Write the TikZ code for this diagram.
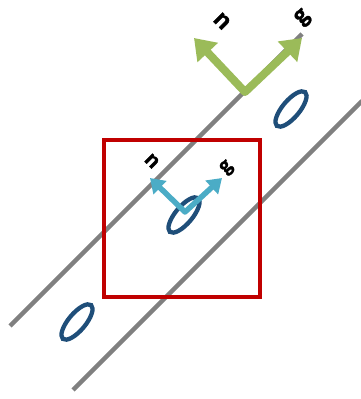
\documentclass[tikz,border=0pt]{standalone}
\usepackage{fontspec}
\setmainfont{Carlito}
\newfontfamily\heavyfont{Carlito}[BoldFont={Carlito Bold},BoldFeatures={FakeBold=1.5}]
\usetikzlibrary{arrows.meta}
\definecolor{lgray}{RGB}{128,128,128}
\definecolor{boxred}{RGB}{192,0,0}
\definecolor{ellblue}{RGB}{31,78,121}
\definecolor{vgreen}{RGB}{155,187,89}
\definecolor{vblue}{RGB}{75,172,198}
\begin{document}
\begin{tikzpicture}[x=1pt,y=1pt,
  wall/.style={draw=lgray,line width=4.5pt},
  frame/.style={draw=boxred,line width=4pt},
  particle/.style={draw=ellblue,line width=4.3pt},
  bigvec/.style={draw=vgreen,line width=8pt,line join=round,{Triangle[length=20pt,width=27pt]}-{Triangle[length=20pt,width=27pt]}},
  smallvec/.style={draw=vblue,line width=5.5pt,line join=round,{Triangle[length=14pt,width=18pt]}-{Triangle[length=14pt,width=18pt]}},
  biglab/.style={font=\heavyfont\bfseries\fontsize{27}{27}\selectfont,inner sep=0pt},
  smalllab/.style={font=\heavyfont\bfseries\fontsize{23}{23}\selectfont,inner sep=0pt}]
\useasboundingbox (0,0) rectangle (360,399);
% walls
\coordinate (u1) at (10,73);
\coordinate (u2) at (302,365);
\coordinate (l1) at (73,9);
\coordinate (l2) at (362,298);
\draw[wall] (u1) -- (u2);
\draw[wall] (l1) -- (l2);
% frame
\coordinate (r1) at (104,102);
\coordinate (r2) at (260,259);
\draw[frame] (r1) rectangle (r2);
% particles
\coordinate (e1) at (77,77);
\coordinate (e2) at (184,184);
\coordinate (e3) at (291,290);
\foreach \c in {e1,e2,e3}
  \draw[particle,rotate around={50:(\c)}] (\c) ellipse[x radius=22pt,y radius=8.5pt];
% green vectors
\coordinate (gv) at (245,307);
\coordinate (gn) at (194,361);
\coordinate (gg) at (302,361);
\draw[bigvec] (gn) -- (gv) -- (gg);
\node[biglab,rotate=-45] (gnl) at (222,378) {n};
\node[biglab,rotate=45] (ggl) at (303,381) {g};
% blue vectors
\coordinate (bv) at (185,187);
\coordinate (bn) at (150,221);
\coordinate (bg) at (222,221);
\draw[smallvec] (bn) -- (bv) -- (bg);
\node[smalllab,rotate=-45] (bnl) at (152,238) {n};
\node[smalllab,rotate=45] (bgl) at (227,231) {g};
\end{tikzpicture}
\end{document}
